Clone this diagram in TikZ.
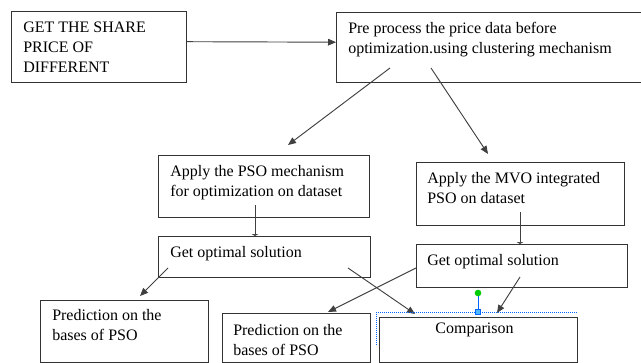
\documentclass[tikz,border=0pt]{standalone}
\usepackage{fontspec}
\setmainfont{Liberation Serif}
\usetikzlibrary{arrows.meta}
\tikzset{
  box/.style={draw=black!80, line width=0.8pt, anchor=north west, inner sep=0pt},
  txt/.style={anchor=north west, inner sep=0pt, align=left, font=\fontsize{12}{15}\selectfont},
  arr/.style={draw=black!75, line width=0.7pt, -{Triangle[length=6pt,width=5pt]}},
  tick/.style={draw=black!75, line width=0.7pt, -{Triangle[length=1.5pt,width=5pt]}},
  handle/.style={draw=blue!60!cyan, line width=0.5pt}
}

\begin{document}
\begin{tikzpicture}[x=0.75pt, y=-0.75pt]
\useasboundingbox (0,0) rectangle (641,363);
\clip (0,0) rectangle (641,363);

% boxes
\node[box, minimum width=131.25pt, minimum height=53.25pt] (get) at (11,11) {};
\node[box, minimum width=232.5pt, minimum height=52.5pt] (pre) at (336,12) {};
\node[box, minimum width=158.25pt, minimum height=46.5pt] (pso) at (158,155) {};
\node[box, minimum width=159pt, minimum height=30.75pt] (optL) at (158,236) {};
\node[box, minimum width=156pt, minimum height=47.25pt] (mvo) at (416,162) {};
\node[box, minimum width=158.25pt, minimum height=32.25pt] (optR) at (416,244) {};
\node[box, minimum width=126pt, minimum height=46.5pt] (predL) at (40,300) {};
\node[box, minimum width=111pt, minimum height=36.75pt] (predM) at (222,313) {};
\node[box, minimum width=148.5pt, minimum height=33.75pt] (comp) at (379,317) {};

% texts
\node[txt] (get-t) at ([shift={(12,11)}]get.north west) {GET THE SHARE\\PRICE OF\\DIFFERENT};
\node[txt] (pre-t) at ([shift={(12,10)}]pre.north west) {Pre process the price data before\\optimization.using clustering mechanism};
\node[txt] (pso-t) at ([shift={(12,10)}]pso.north west) {Apply the PSO mechanism\\for optimization on dataset};
\node[txt] (optL-t) at ([shift={(12,10)}]optL.north west) {Get optimal solution};
\node[txt] (mvo-t) at ([shift={(11,10)}]mvo.north west) {Apply the MVO integrated\\PSO on dataset};
\node[txt] (optR-t) at ([shift={(11,10)}]optR.north west) {Get optimal solution};
\node[txt] (predL-t) at ([shift={(12,9)}]predL.north west) {Prediction on the\\bases of PSO};
\node[txt] (predM-t) at ([shift={(11,11)}]predM.north west) {Prediction on the\\bases of PSO};
\node[txt, anchor=north] (comp-t) at ([shift={(-4,6)}]comp.north) {Comparison};

% connector ends
\coordinate (pre-a) at (390,68);
\coordinate (pre-b) at (431,68);
\coordinate (pso-in) at (288,145);
\coordinate (mvo-in) at (488,154);
\coordinate (pso-b) at (255,205);
\coordinate (mvo-b) at (520,212);
\coordinate (optL-a) at (168,268);
\coordinate (optL-b) at (348,268);
\coordinate (optR-a) at (416,268);
\coordinate (optR-b) at (520,277);
\coordinate (predL-in) at (140,296);
\coordinate (predM-in) at (328,312);
\coordinate (comp-a) at (415,314);
\coordinate (comp-b) at (497,313);

% connectors
\draw[arr] ([yshift=4pt]get.east) -- ([yshift=4pt]pre.west);
\draw[arr] (pre-a) -- (pso-in);
\draw[arr] (pre-b) -- (mvo-in);
\draw[tick] (pso-b) -- (pso-b |- optL.north);
\draw[tick] (mvo-b) -- (mvo-b |- optR.north);
\draw[arr] (optL-a) -- (predL-in);
\draw[arr] (optL-b) -- (comp-a);
\draw[arr] (optR-a) -- (predM-in);
\draw[arr] (optR-b) -- (comp-b);

% selection handles
\draw[handle, densely dotted] (376,312) -- (577,312);
\draw[handle, densely dotted] (376,312) -- (376,345);
\draw[handle] (478,296) -- (478,309);
\node[handle, fill=blue!40!cyan!70, minimum size=4pt, inner sep=0pt] (sel) at (478,312) {};
\node[circle, fill=green!80!black, minimum size=5pt, inner sep=0pt] (rot) at (478,293) {};
\end{tikzpicture}
\end{document}
